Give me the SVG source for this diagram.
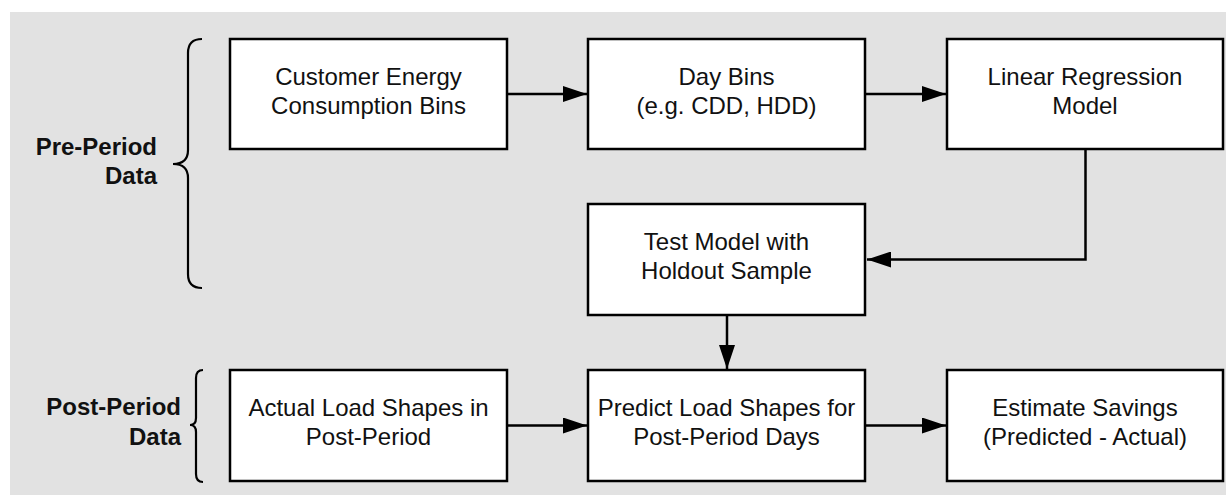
<svg xmlns="http://www.w3.org/2000/svg" width="1230" height="495" viewBox="0 0 1230 495">
<style>
.box{fill:#fff;stroke:#000;stroke-width:2.5}
.t{font-family:"Liberation Sans",Arial,sans-serif;font-size:24px;fill:#111;text-anchor:middle}
.lbl{font-family:"Liberation Sans",Arial,sans-serif;font-size:24px;font-weight:bold;fill:#111;text-anchor:end}
.c{fill:none;stroke:#000;stroke-width:2.5}
.br{fill:none;stroke:#000;stroke-width:2.2}
</style>
<defs>
<marker id="ah" markerUnits="userSpaceOnUse" markerWidth="26" markerHeight="16" refX="24" refY="8" orient="auto">
<path d="M0,0 L24,8 L0,16 Z" fill="#000"/>
</marker>
</defs>
<rect x="0" y="0" width="1230" height="495" fill="#fff"/>
<rect x="10" y="12" width="1216" height="483" fill="#e2e2e2"/>

<g id="pre-label">
<text class="lbl" x="157" y="155">Pre-Period</text>
<text class="lbl" x="157" y="184">Data</text>
<path class="br" d="M202,39 Q188,39 188,53 L188,150 Q188,164 173,164 Q188,164 188,178 L188,274 Q188,288 202,288"/>
</g>
<g id="post-label">
<text class="lbl" x="181" y="415">Post-Period</text>
<text class="lbl" x="181" y="445">Data</text>
<path class="br" d="M203,370 Q196,370 196,378 L196,418 Q196,425 190,425 Q196,425 196,432 L196,474 Q196,482 203,482"/>
</g>

<g id="connectors">
<path class="c" d="M507,94 L587,94" marker-end="url(#ah)"/>
<path class="c" d="M866,94 L946,94" marker-end="url(#ah)"/>
<path class="c" d="M1085.5,150 L1085.5,259.5 L867,259.5" marker-end="url(#ah)"/>
<path class="c" d="M727,315 L727,369" marker-end="url(#ah)"/>
<path class="c" d="M507,425.5 L587,425.5" marker-end="url(#ah)"/>
<path class="c" d="M866,425.5 L946,425.5" marker-end="url(#ah)"/>
</g>

<g id="n1"><rect class="box" x="230" y="39" width="277" height="110"/>
<text class="t" x="368.5" y="85">Customer Energy</text><text class="t" x="368.5" y="114">Consumption Bins</text></g>
<g id="n2"><rect class="box" x="588" y="39" width="277" height="110"/>
<text class="t" x="726.5" y="85">Day Bins</text><text class="t" x="726.5" y="114">(e.g. CDD, HDD)</text></g>
<g id="n3"><rect class="box" x="947" y="39" width="276" height="110"/>
<text class="t" x="1085" y="85">Linear Regression</text><text class="t" x="1085" y="114">Model</text></g>
<g id="n4"><rect class="box" x="588" y="204" width="277" height="111"/>
<text class="t" x="726.5" y="250">Test Model with</text><text class="t" x="726.5" y="279">Holdout Sample</text></g>
<g id="n5"><rect class="box" x="230" y="370" width="277" height="111"/>
<text class="t" x="368.5" y="416">Actual Load Shapes in</text><text class="t" x="368.5" y="445">Post-Period</text></g>
<g id="n6"><rect class="box" x="588" y="370" width="277" height="111"/>
<text class="t" x="726.5" y="416">Predict Load Shapes for</text><text class="t" x="726.5" y="445">Post-Period Days</text></g>
<g id="n7"><rect class="box" x="947" y="370" width="276" height="111"/>
<text class="t" x="1085" y="416">Estimate Savings</text><text class="t" x="1085" y="445">(Predicted - Actual)</text></g>
</svg>
